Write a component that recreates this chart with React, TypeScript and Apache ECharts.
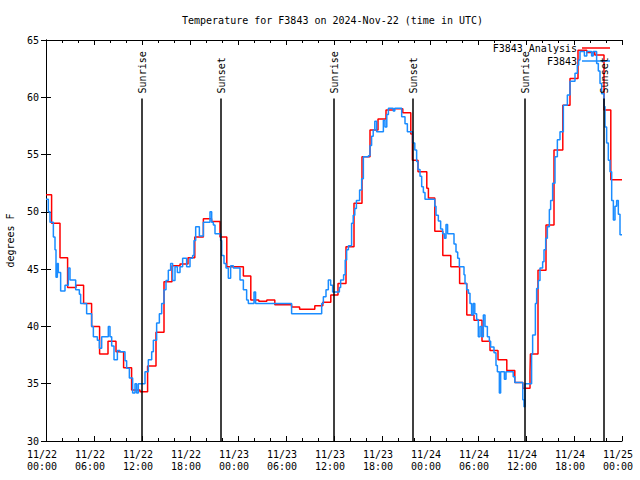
import React, { useEffect, useRef } from "react";
import * as echarts from "echarts";

// Hours since 2024-11-22 00:00 UTC
const xTickLabels = [
  "11/22\n00:00", "11/22\n06:00", "11/22\n12:00", "11/22\n18:00",
  "11/23\n00:00", "11/23\n06:00", "11/23\n12:00", "11/23\n18:00",
  "11/24\n00:00", "11/24\n06:00", "11/24\n12:00", "11/24\n18:00",
  "11/25\n00:00",
];

const analysisHours = [
  0, 0.7, 1.75, 2.7, 3.75, 4.7, 5.7, 6.7, 7.75, 8.75, 9.7, 10.7, 11.75, 12.7,
  13.75, 14.75, 15.75, 16.75, 17.75, 18.6, 19.67, 20.7, 21.75, 22.6, 23.6,
  24.67, 25.6, 26.6, 27.6, 28.6, 29.6, 30.7, 31.7, 32.6, 33.6, 34.6, 35.6,
  36.5, 37.5, 38.5, 39.5, 40.5, 41.5, 42.5, 43.5, 44.6, 45.6, 45.8, 46.5,
  47.6, 47.8, 48.6, 49.6, 50.6, 51.7, 52.6, 53.5, 54.5, 55.5, 56.5, 57.6,
  58.6, 59.6, 60.5, 60.55, 61.5, 62.5, 63.5, 64.6, 65.5, 66.5, 67.6, 68.6,
  69.75, 70.6, 72,
];
const analysisTemps = [
  51.5, 49.0, 46.0, 43.4, 43.6, 42.0, 40.0, 37.6, 38.7, 37.8, 36.4, 34.45,
  34.3, 36.55, 39.5, 43.9, 45.3, 45.45, 46.0, 47.8, 49.4, 49.15, 47.8, 45.2,
  45.2, 44.4, 42.3, 42.2, 42.3, 41.9, 41.9, 41.7, 41.5, 41.5, 41.8, 42.1,
  42.75, 43.75, 46.95, 50.75, 54.8, 57.15, 58.1, 58.9, 59.0, 58.65, 56.8,
  54.5, 53.5, 52.05, 51.2, 48.3, 46.2, 45.2, 43.75, 41.0, 40.55, 38.7, 37.9,
  37.1, 36.15, 35.1, 34.6, 36.0, 37.6, 44.9, 48.85, 55.4, 59.3, 61.65, 64.1,
  63.9, 63.7, 58.9, 52.8, 52.8,
];

const obsHours = [
  0, 0.29, 0.5, 0.92, 1.125, 1.25, 1.42, 1.54, 1.83, 2.375, 2.79, 3.0, 3.71,
  4.17, 4.33, 5.08, 5.71, 5.92, 6.42, 6.67, 6.96, 7.79, 8.0, 8.21, 8.5, 8.92,
  9.25, 9.875, 10.08, 10.42, 10.83, 11.125, 11.33, 11.54, 12.375, 12.79,
  13.21, 13.42, 13.83, 14.17, 14.46, 14.75, 15.0, 15.29, 15.58, 15.83,
  16.125, 16.42, 16.75, 17.08, 17.58, 18.0, 18.33, 18.5, 18.71, 19.17,
  19.67, 20.5, 20.71, 20.92, 21.125, 21.83, 21.96, 22.25, 22.5, 22.79,
  23.08, 23.42, 24.25, 24.67, 25.08, 25.29, 26.0, 26.2, 30.7, 34.46, 34.67,
  35.0, 35.29, 35.58, 35.83, 36.67, 36.83, 37.2, 37.4, 37.58, 37.8, 38.2,
  38.4, 38.6, 38.8, 39.2, 39.46, 39.67, 40.3, 40.5, 40.7, 40.9, 41.1, 41.33,
  42.17, 42.375, 42.6, 42.8, 43.4, 43.6, 44.46, 44.875, 45.17, 45.83, 46.1,
  46.33, 46.5, 46.75, 46.96, 47.17, 47.375, 48.6, 48.75, 49.04, 49.33,
  49.58, 49.8, 50.0, 50.2, 51.0, 51.25, 51.46, 51.67, 52.25, 52.375, 52.58,
  52.8, 53.0, 53.2, 53.4, 53.6, 53.83, 54.04, 54.25, 54.46, 54.67, 54.875,
  55.17, 55.42, 55.58, 56.0, 56.25, 56.42, 56.67, 56.83, 57.3, 57.5, 58.4,
  58.6, 59.6, 59.75, 59.875, 60.7, 60.83, 61.17, 61.33, 61.54, 61.75, 62.08,
  62.25, 62.46, 62.67, 62.92, 63.08, 63.33, 63.625, 63.92, 64.25, 64.67,
  65.17, 65.5, 66.125, 66.42, 66.58, 66.75, 67.3, 67.6, 68.2, 68.4, 68.83,
  69.04, 69.25, 69.46, 69.75, 69.875, 70.08, 70.29, 70.5, 70.71, 70.92,
  71.125, 71.33, 71.54, 71.75, 72,
];
const obsTemps = [
  51.1, 50.0, 49.1, 47.8, 46.7, 44.3, 45.5, 44.7, 43.1, 43.6, 45.1, 44.05,
  43.2, 42.8, 42.0, 41.1, 40.0, 39.1, 38.8, 38.1, 39.1, 40.0, 39.1, 38.3,
  37.1, 37.9, 37.8, 37.0, 36.35, 35.5, 34.2, 35.0, 34.2, 35.0, 36.05, 37.1,
  37.8, 38.8, 40.3, 41.1, 42.0, 43.2, 44.0, 44.9, 45.5, 44.0, 45.2, 44.7,
  45.2, 45.95, 45.2, 45.95, 46.2, 47.5, 48.7, 47.9, 49.1, 50.0, 49.1, 48.85,
  48.1, 47.5, 46.2, 45.5, 45.1, 44.2, 45.3, 45.1, 44.05, 43.2, 42.3, 42.0,
  43.0, 42.0, 41.1, 42.0, 42.6, 43.2, 44.05, 43.6, 43.0, 43.4, 44.05, 44.5,
  45.8, 46.7, 47.05, 49.0, 49.7, 50.3, 51.0, 51.9, 52.9, 54.8, 54.9, 55.8,
  56.6, 57.15, 57.9, 57.0, 58.0, 57.4, 58.5, 59.05, 58.8, 59.05, 58.3, 57.7,
  57.0, 56.0, 55.4, 54.4, 53.7, 53.1, 52.2, 51.7, 51.1, 50.5, 49.7, 49.2,
  48.5, 48.1, 47.7, 48.9, 48.1, 47.2, 46.5, 45.95, 45.2, 44.5, 43.75, 43.2,
  42.9, 42.0, 41.0, 42.0, 41.1, 40.6, 39.1, 40.0, 39.1, 41.0, 40.0, 39.1,
  38.7, 38.2, 37.7, 36.6, 36.05, 34.2, 36.05, 35.4, 36.05, 35.6, 35.1, 33.6,
  33.0, 35.0, 37.6, 39.25, 42.0, 43.3, 44.0, 45.1, 45.65, 46.7, 47.7, 48.7,
  50.2, 51.0, 52.5, 54.8, 56.3, 57.0, 59.3, 60.2, 61.4, 62.1, 62.8, 63.25,
  64.0, 63.6, 64.0, 63.6, 64.0, 62.95, 62.3, 61.2, 60.3, 59.2, 57.4, 56.0,
  54.5, 53.5, 51.0, 49.3, 50.5, 51.0, 49.8, 48.0, 48.0,
];

const sunHours = [12.0, 21.875, 36.0, 45.875, 59.875, 69.75];
const sunLabels = ["Sunrise", "Sunset", "Sunrise", "Sunset", "Sunrise", "Sunset"];
const sunLineTop = 59.9;

const FONT = "'DejaVu Sans Mono', 'Liberation Mono', monospace";

export default function App() {
  const ref = useRef<HTMLDivElement>(null);
  useEffect(() => {
    if (!ref.current) return;
    const chart = echarts.init(ref.current, null, { renderer: "svg" });
    const axisCommon = {
      type: "value" as const,
      axisLine: { show: true, lineStyle: { color: "#000", width: 1 } },
      splitLine: { show: false },
    };
    chart.setOption({
      animation: false,
      backgroundColor: "#fff",
      title: {
        text: "Temperature for F3843 on 2024-Nov-22 (time in UTC)",
        left: 182,
        top: 15,
        padding: 0,
        textStyle: { fontFamily: FONT, fontSize: 10, fontWeight: "normal", color: "#000" },
      },
      legend: {
        data: ["F3843 Analysis", "F3843"],
        orient: "vertical",
        align: "right",
        right: 30,
        top: 43,
        padding: 0,
        itemWidth: 28,
        itemHeight: 1.5,
        itemGap: 3,
        icon: "rect",
        textStyle: { fontFamily: FONT, fontSize: 10, color: "#000" },
      },
      grid: { left: 46, right: 18, top: 40, bottom: 39, outerBoundsMode: "none" },
      xAxis: [
        {
          ...axisCommon,
          position: "bottom",
          min: 0,
          max: 72,
          interval: 6,
          axisTick: { show: true, inside: true, length: 5, lineStyle: { color: "#000" } },
          minorTick: { show: true, splitNumber: 3, length: 3, lineStyle: { color: "#000" } },
          axisLabel: {
            margin: 7,
            fontFamily: FONT,
            fontSize: 10,
            color: "#000",
            lineHeight: 12,
            padding: [0, 8, 0, 0],
            formatter: (v: number) => xTickLabels[Math.round(v / 6)] ?? "",
          },
        },
        {
          ...axisCommon,
          position: "top",
          min: 0,
          max: 72,
          interval: 6,
          axisTick: { show: true, inside: true, length: 5, lineStyle: { color: "#000" } },
          minorTick: { show: true, splitNumber: 3, length: 3, lineStyle: { color: "#000" } },
          axisLabel: { show: false },
        },
      ],
      yAxis: [
        {
          ...axisCommon,
          position: "left",
          min: 30,
          max: 65,
          interval: 5,
          name: "degrees F",
          nameLocation: "middle",
          nameGap: 31,
          nameTextStyle: { fontFamily: FONT, fontSize: 10, color: "#000" },
          axisTick: { show: true, inside: true, length: 5, lineStyle: { color: "#000" } },
          axisLabel: { margin: 7, fontFamily: FONT, fontSize: 10, color: "#000" },
        },
        {
          ...axisCommon,
          position: "right",
          min: 30,
          max: 65,
          interval: 5,
          axisTick: { show: true, inside: true, length: 5, lineStyle: { color: "#000" } },
          axisLabel: { show: false },
        },
      ],
      series: [
        {
          name: "F3843 Analysis",
          type: "line",
          step: "end",
          showSymbol: false,
          color: "#ff0000",
          lineStyle: { width: 1.5, color: "#ff0000" },
          data: analysisHours.map((h, i) => [h, analysisTemps[i]]),
          markLine: {
            silent: true,
            symbol: "none",
            label: { show: false },
            lineStyle: { color: "#000", width: 1.5, type: "solid" },
            data: sunHours.map((h) => [
              { coord: [h, 30] },
              { coord: [h, sunLineTop] },
            ]),
          },
          z: 2,
        },
        {
          name: "F3843",
          type: "line",
          step: "end",
          showSymbol: false,
          color: "#1a8cff",
          lineStyle: { width: 1.5, color: "#1a8cff" },
          data: obsHours.map((h, i) => [h, obsTemps[i]]),
          z: 3,
        },
      ],
    });
    const yTop = chart.convertToPixel({ yAxisIndex: 0 }, sunLineTop) as number;
    chart.setOption({
      graphic: sunHours.map((h, i) => ({
        type: "text",
        x: chart.convertToPixel({ xAxisIndex: 0 }, h) as number,
        y: yTop - 5,
        rotation: Math.PI / 2,
        style: {
          text: sunLabels[i],
          font: `10px ${FONT}`,
          fill: "#000",
          align: "left",
          verticalAlign: "middle",
        },
        z: 10,
      })),
    });
    return () => chart.dispose();
  }, []);
  return (
    <div
      ref={ref}
      style={{ position: "fixed", left: 0, top: 0, width: 640, height: 480 }}
    />
  );
}
